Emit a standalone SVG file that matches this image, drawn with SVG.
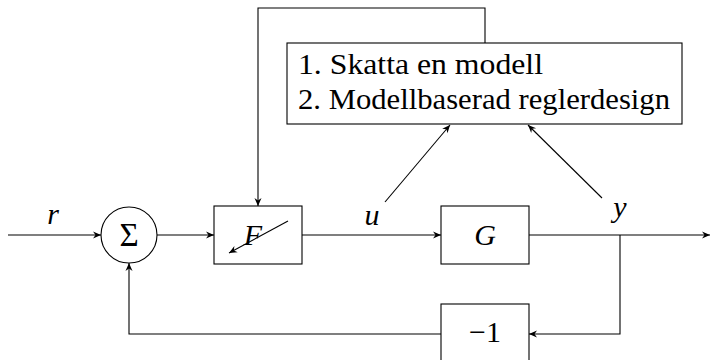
<svg xmlns="http://www.w3.org/2000/svg" width="710" height="360" viewBox="0 0 710 360">
<style>
.ln{fill:none;stroke:#000;stroke-width:1.1}
.bx{fill:#fff;stroke:#000;stroke-width:1.1}
text{font-family:'Liberation Serif',serif;fill:#000}
.t{font-size:30px}
.s{font-size:33px}
.m{font-style:italic}
</style>
<defs>
<marker id="ah" viewBox="-9 -5 10 10" refX="0" refY="0" markerWidth="10" markerHeight="10" markerUnits="userSpaceOnUse" orient="auto">
<path d="M0,0 L-8,-3.5 L-5.5,0 L-8,3.5 Z" fill="#000"/>
</marker>
</defs>
<g id="connectors">
<path class="ln" d="M8,235 H101" marker-end="url(#ah)"/>
<path class="ln" d="M157,235 H214" marker-end="url(#ah)"/>
<path class="ln" d="M302,235 H441" marker-end="url(#ah)"/>
<path class="ln" d="M529,235 H710" marker-end="url(#ah)"/>
<path class="ln" d="M620,235 V334 H529" marker-end="url(#ah)"/>
<path class="ln" d="M441,334 H129 V263" marker-end="url(#ah)"/>
<path class="ln" d="M485,43 V8 H258 V206" marker-end="url(#ah)"/>
<path class="ln" d="M385,202 L450,125" marker-end="url(#ah)"/>
<path class="ln" d="M602,198 L528,125" marker-end="url(#ah)"/>
</g>
<g id="sum">
<circle class="bx" cx="129" cy="235" r="28"/>
<text class="s" x="129" y="246" text-anchor="middle">Σ</text>
</g>
<g id="F">
<rect class="bx" x="214" y="206" width="88" height="58"/>
<text class="t m" x="253" y="245" text-anchor="middle">F</text>
<path class="ln" d="M288,221 L229,253" marker-end="url(#ah)"/>
</g>
<g id="G">
<rect class="bx" x="441" y="206" width="88" height="58"/>
<text class="t m" x="485" y="245" text-anchor="middle">G</text>
</g>
<g id="neg">
<rect class="bx" x="441" y="304" width="88" height="60"/>
<text class="t" x="485" y="342" text-anchor="middle">−1</text>
</g>
<g id="design">
<rect class="bx" x="287" y="43" width="395" height="81"/>
<text class="t" x="298" y="74" textLength="245" lengthAdjust="spacingAndGlyphs">1. Skatta en modell</text>
<text class="t" x="298" y="109" textLength="372" lengthAdjust="spacingAndGlyphs">2. Modellbaserad reglerdesign</text>
</g>
<g id="labels">
<text class="t m" x="53" y="224" text-anchor="middle">r</text>
<text class="t m" x="372" y="225" text-anchor="middle">u</text>
<text class="t m" x="620" y="217" text-anchor="middle">y</text>
</g>
</svg>
